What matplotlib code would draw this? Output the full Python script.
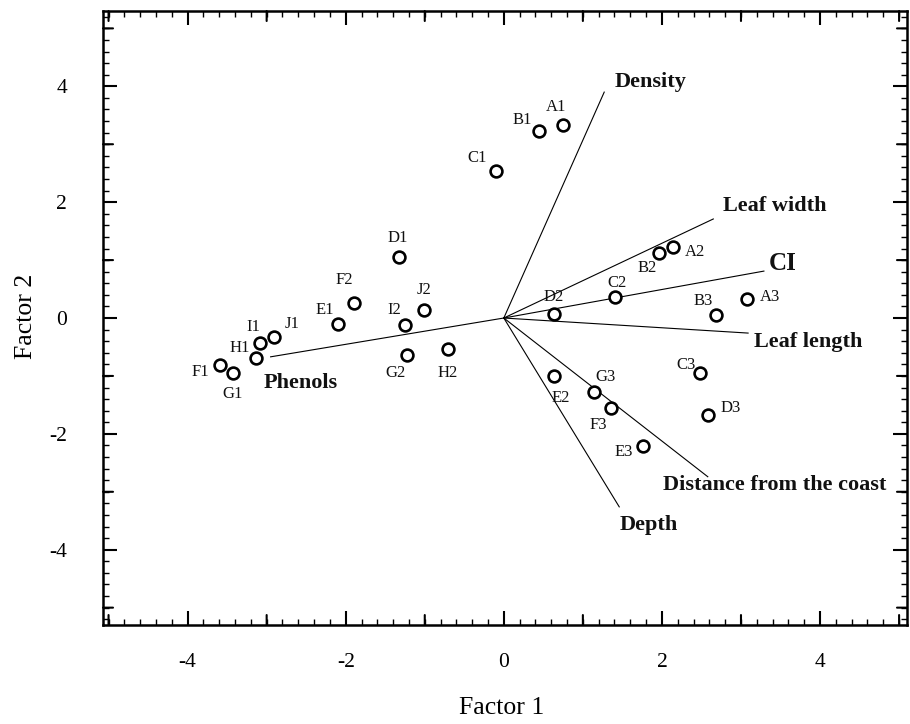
import matplotlib
matplotlib.use("Agg")
import matplotlib.pyplot as plt
from matplotlib.ticker import MultipleLocator

plt.rcParams['font.family'] = ['Liberation Serif', 'DejaVu Serif']

# ---- data ----
site_names = ["A1", "B1", "C1", "D1", "E1", "F1", "G1", "H1", "I1", "J1",
              "A2", "B2", "C2", "D2", "E2", "F2", "G2", "H2", "I2", "J2",
              "A3", "B3", "C3", "D3", "E3", "F3", "G3"]
site_x = [0.75, 0.44, -0.10, -1.33, -2.10, -3.59, -3.43, -3.14, -3.09, -2.91,
          2.14, 1.96, 1.41, 0.63, 0.63, -1.90, -1.22, -0.71, -1.25, -1.01,
          3.08, 2.68, 2.48, 2.58, 1.76, 1.35, 1.14]
site_y = [3.33, 3.22, 2.53, 1.05, -0.10, -0.81, -0.95, -0.69, -0.43, -0.33,
          1.22, 1.12, 0.36, 0.07, -1.00, 0.26, -0.64, -0.53, -0.12, 0.14,
          0.33, 0.05, -0.95, -1.67, -2.21, -1.55, -1.28]

var_names = ["Density", "Leaf width", "CI", "Leaf length",
             "Distance from the coast", "Depth", "Phenols"]
var_x = [1.27, 2.65, 3.29, 3.09, 2.58, 1.46, -2.95]
var_y = [3.90, 1.71, 0.81, -0.26, -2.74, -3.26, -0.67]

tick_values = [-4, -2, 0, 2, 4]
tick_labels = ["-4", "-2", "0", "2", "4"]
unlabelled_major = [-5, -3, -1, 1, 3, 5]

# ---- label placement (pixel offsets) ----
site_offsets = {
    "A1": (-7, 18), "B1": (-16, 11), "C1": (-19, 13), "D1": (-1, 19),
    "E1": (-13, 14), "F1": (-20, -7), "G1": (0, -21), "H1": (-16, 10),
    "I1": (-6, 16), "J1": (18, 13),
    "A2": (22, -5), "B2": (-12, -15), "C2": (2, 14), "D2": (0, 17),
    "E2": (7, -22), "F2": (-9, 23), "G2": (-12, -18), "H2": (0, -24),
    "I2": (-11, 15), "J2": (0, 20),
    "A3": (23, 2), "B3": (-13, 14), "C3": (-14, 8), "D3": (23, 7),
    "E3": (-19, -6), "F3": (-12, -17), "G3": (12, 15),
}
var_label_style = {
    "Density": ((10, 10), "left", 16),
    "Leaf width": ((10, 13), "left", 16),
    "CI": ((5, 8), "left", 18),
    "Leaf length": ((6, -9), "left", 16),
    "Distance from the coast": ((-45, -8), "left", 16),
    "Depth": ((30, -18), "center", 16),
    "Phenols": ((30, -26), "center", 16),
}

fig = plt.figure(figsize=(9.10, 7.24), dpi=100)
ax = fig.add_axes([0.1132, 0.1367, 0.8835, 0.8481])

# vectors
for name, vx, vy in zip(var_names, var_x, var_y):
    ax.plot([0, vx], [0, vy], color="black", lw=0.8, zorder=2)
    (dx, dy), ha, fs = var_label_style[name]
    ax.annotate(name, (vx, vy), xytext=(dx, dy), textcoords="offset pixels",
                ha=ha, va="center", fontsize=fs, fontweight="bold",
                color="#111111", zorder=4)

# sites
ax.plot(site_x, site_y, linestyle="none", marker="o", markersize=8.5,
        markerfacecolor="white", markeredgecolor="black",
        markeredgewidth=1.9, zorder=3)
for name, sx, sy in zip(site_names, site_x, site_y):
    dx, dy = site_offsets[name]
    ax.annotate(name, (sx, sy), xytext=(dx, dy), textcoords="offset pixels",
                ha="center", va="center", fontsize=12, color="#111111",
                zorder=4)

ax.set_xlim(-5.07, 5.1)
ax.set_ylim(-5.3, 5.3)

ax.set_xticks(tick_values)
ax.set_xticklabels(tick_labels)
ax.set_yticks(tick_values)
ax.set_yticklabels(tick_labels)
ax.xaxis.set_minor_locator(MultipleLocator(0.2))
ax.yaxis.set_minor_locator(MultipleLocator(0.2))

ax.tick_params(which="major", direction="in", length=10, width=1.5,
               top=True, right=True, labelsize=15.5)
ax.tick_params(axis="x", which="major", pad=20)
ax.tick_params(axis="y", which="major", pad=26)
ax.tick_params(which="minor", direction="in", length=4, width=1.0,
               top=True, right=True)
for sp in ax.spines.values():
    sp.set_linewidth(1.8)

# unlabelled major-length ticks at odd integers
for v in unlabelled_major:
    for y0, sgn in ((0, 1), (1, -1)):
        ax.annotate("", xy=(v, y0), xycoords=("data", "axes fraction"),
                    xytext=(0, sgn * 10), textcoords="offset pixels",
                    arrowprops=dict(arrowstyle="-", lw=1.5, color="black",
                                    shrinkA=0, shrinkB=0))
    for x0, sgn in ((0, 1), (1, -1)):
        ax.annotate("", xy=(x0, v), xycoords=("axes fraction", "data"),
                    xytext=(sgn * 10, 0), textcoords="offset pixels",
                    arrowprops=dict(arrowstyle="-", lw=1.5, color="black",
                                    shrinkA=0, shrinkB=0))

fig.text(502 / 910, 1 - 708 / 724, "Factor 1", fontsize=18.5,
         ha="center", va="center")
fig.text(26 / 910, 1 - 316 / 724, "Factor 2", fontsize=18.5,
         ha="center", va="center", rotation=90)

fig.savefig("out.png", dpi=100)
